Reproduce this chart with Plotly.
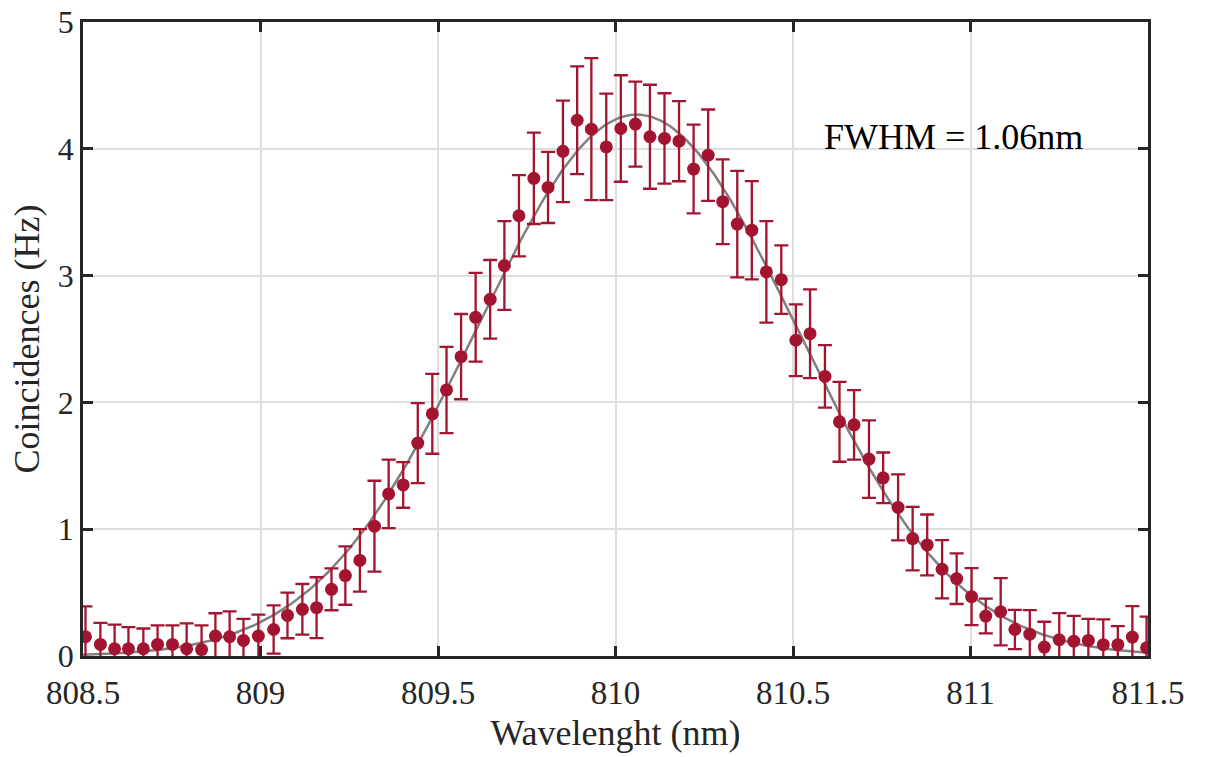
import numpy as np
import plotly.graph_objects as go

# ---- data ----
wavelength = [808.507, 808.549, 808.589, 808.628, 808.670, 808.710, 808.752, 808.792, 808.834, 808.873,
              808.913, 808.952, 808.994, 809.037, 809.076, 809.118, 809.158, 809.200, 809.239, 809.280,
              809.321, 809.361, 809.402, 809.443, 809.484, 809.524, 809.565, 809.606, 809.647, 809.687,
              809.728, 809.770, 809.810, 809.852, 809.892, 809.932, 809.974, 810.015, 810.056, 810.097,
              810.138, 810.179, 810.220, 810.261, 810.302, 810.343, 810.384, 810.425, 810.467, 810.508,
              810.548, 810.590, 810.631, 810.672, 810.714, 810.754, 810.796, 810.837, 810.878, 810.920,
              810.961, 811.003, 811.043, 811.085, 811.125, 811.167, 811.208, 811.250, 811.291, 811.332,
              811.374, 811.415, 811.456, 811.496]

coincidences = [0.152, 0.091, 0.057, 0.057, 0.057, 0.091, 0.091, 0.057, 0.051, 0.157,
                0.152, 0.123, 0.157, 0.209, 0.320, 0.368, 0.381, 0.526, 0.634, 0.754,
                1.024, 1.278, 1.349, 1.679, 1.910, 2.098, 2.361, 2.671, 2.813, 3.079,
                3.472, 3.767, 3.695, 3.980, 4.225, 4.155, 4.015, 4.160, 4.195, 4.095,
                4.082, 4.060, 3.840, 3.950, 3.583, 3.406, 3.358, 3.029, 2.968, 2.490,
                2.542, 2.205, 1.847, 1.823, 1.553, 1.405, 1.172, 0.926, 0.876, 0.684,
                0.610, 0.468, 0.315, 0.349, 0.209, 0.172, 0.070, 0.128, 0.117, 0.123,
                0.089, 0.089, 0.149, 0.065]

errors = [0.24, 0.17, 0.19, 0.17, 0.16, 0.15, 0.15, 0.20, 0.19, 0.18,
          0.20, 0.17, 0.17, 0.19, 0.18, 0.20, 0.24, 0.165, 0.23, 0.246,
          0.358, 0.27, 0.18, 0.316, 0.315, 0.34, 0.336, 0.35, 0.31, 0.35,
          0.32, 0.36, 0.28, 0.40, 0.425, 0.56, 0.42, 0.42, 0.335, 0.41,
          0.356, 0.316, 0.35, 0.36, 0.334, 0.42, 0.387, 0.40, 0.27, 0.283,
          0.35, 0.246, 0.315, 0.274, 0.306, 0.20, 0.26, 0.25, 0.24, 0.23,
          0.20, 0.225, 0.137, 0.265, 0.155, 0.19, 0.20, 0.21, 0.20, 0.17,
          0.20, 0.147, 0.245, 0.245]

# Gaussian fit parameters
fit_amplitude = 4.27
fit_center = 810.06
fit_fwhm = 1.06
fit_offset = 0.0

x_tickvals = [808.5, 809, 809.5, 810, 810.5, 811, 811.5]
x_ticktext = ["808.5", "809", "809.5", "810", "810.5", "811", "811.5"]
y_tickvals = [0, 1, 2, 3, 4, 5]
y_ticktext = ["0", "1", "2", "3", "4", "5"]

annotation_text = "FWHM = 1.06nm"

# ---- fit curve ----
sigma = fit_fwhm / (2 * np.sqrt(2 * np.log(2)))
x_fit = np.linspace(x_tickvals[0], x_tickvals[-1], 400)
y_fit = fit_offset + fit_amplitude * np.exp(-(x_fit - fit_center) ** 2 / (2 * sigma ** 2))

RED = "rgb(162,20,47)"
FONT = "Liberation Serif, Times New Roman, serif"
DARK = "rgb(38,38,38)"

fig = go.Figure()
fig.add_trace(go.Scatter(
    x=x_fit, y=y_fit, mode="lines",
    line=dict(color="rgb(128,128,128)", width=2.5),
    showlegend=False, hoverinfo="skip"))
fig.add_trace(go.Scatter(
    x=wavelength, y=coincidences, mode="markers",
    marker=dict(color=RED, size=13),
    error_y=dict(type="data", array=errors, visible=True, color=RED,
                 thickness=2.3, width=7),
    showlegend=False))

fig.add_annotation(x=810.583, y=4.09, xref="x", yref="y", text=annotation_text,
                   showarrow=False, xanchor="left", yanchor="middle",
                   font=dict(family=FONT, size=36, color="black"))

axis_common = dict(
    showline=True, linecolor=DARK, linewidth=2.5, mirror="ticks",
    ticks="inside", ticklen=10, tickwidth=2.5, tickcolor=DARK,
    showgrid=True, gridcolor="rgb(222,222,222)", gridwidth=2,
    zeroline=False, automargin=False,
)

fig.update_layout(
    width=1205, height=757,
    margin=dict(l=83, r=57, t=22, b=101),
    plot_bgcolor="white", paper_bgcolor="white",
    xaxis=dict(range=[808.5, 811.5], tickvals=x_tickvals, ticktext=x_ticktext,
               tickfont=dict(family=FONT, size=33, color=DARK),
               ticklabelstandoff=6,
               title=dict(text="Wavelenght (nm)", font=dict(family=FONT, size=36, color=DARK),
                          standoff=10),
               **axis_common),
    yaxis=dict(range=[0, 5], tickvals=y_tickvals, ticktext=y_ticktext,
               tickfont=dict(family=FONT, size=32, color=DARK),
               title=dict(text="Coincidences (Hz)", font=dict(family=FONT, size=36, color=DARK),
                          standoff=8),
               **axis_common),
)

fig.write_html("out.html")
